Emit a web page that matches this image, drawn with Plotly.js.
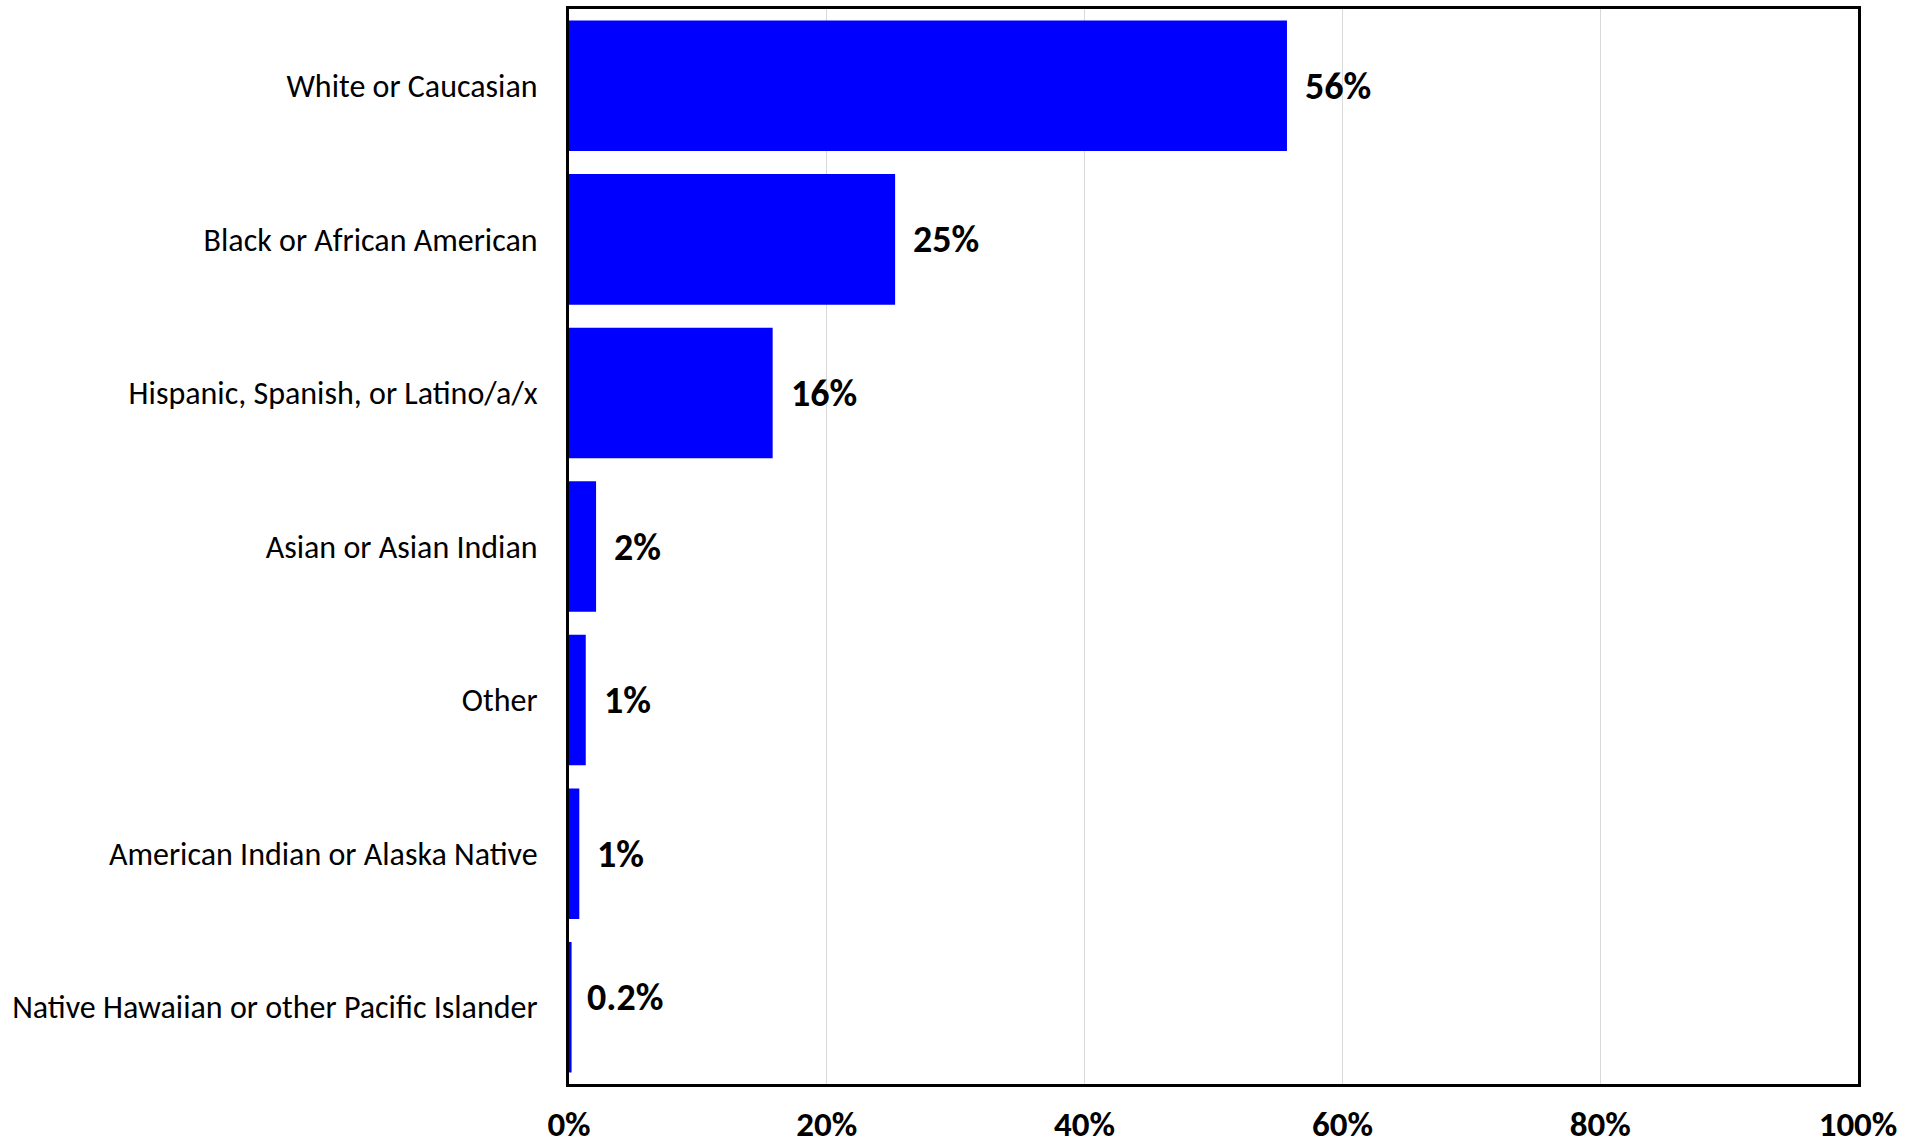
<!DOCTYPE html>
<html>
<head>
<meta charset="utf-8">
<script src="https://cdn.plot.ly/plotly-3.0.1.min.js"></script>
<style>html,body{margin:0;padding:0;background:#fff;}#chart{width:1920px;height:1144px;}</style>
</head>
<body>
<div id="chart"></div>
<script>
const categories = [
  "White or Caucasian",
  "Black or African American",
  "Hispanic, Spanish, or Latino/a/x",
  "Asian or Asian Indian",
  "Other",
  "American Indian or Alaska Native",
  "Native Hawaiian or other Pacific Islander"
];
const values = [55.7, 25.3, 15.8, 2.1, 1.3, 0.8, 0.2];
const valueLabels = ["56%", "25%", "16%", "2%", "1%", "1%", "0.2%"];
const xTickValues = [0, 20, 40, 60, 80, 100];
const xTickLabels = ["0%", "20%", "40%", "60%", "80%", "100%"];

const FONT = "Carlito, Lato, 'Open Sans', sans-serif";

const trace = {
  type: "bar",
  orientation: "h",
  x: values,
  y: categories,
  marker: {color: "#0000FF", line: {width: 0}},
  hoverinfo: "skip"
};

const annotations = categories.map((c, i) => ({
  x: values[i],
  y: c,
  xref: "x",
  yref: "y",
  text: "<b>" + valueLabels[i] + "</b>",
  showarrow: false,
  xanchor: "left",
  yanchor: "middle",
  xshift: valueLabels[i].length > 3 ? 13 : 16,
  yshift: i === categories.length - 1 ? 10 : 0,
  font: {family: FONT, size: 38, color: "#000"}
}));

const layout = {
  width: 1920,
  height: 1144,
  paper_bgcolor: "#fff",
  plot_bgcolor: "#fff",
  margin: {l: 569, r: 62, t: 9, b: 60},
  bargap: 0.15,
  showlegend: false,
  font: {family: FONT, color: "#000"},
  xaxis: {
    range: [0, 100],
    tickvals: xTickValues,
    ticktext: xTickLabels,
    tickfont: {family: FONT, size: 35, color: "#000", weight: "bold"},
    showgrid: true,
    gridcolor: "#d9d9d9",
    gridwidth: 1,
    zeroline: false,
    showline: true,
    linecolor: "#000",
    linewidth: 3,
    mirror: true,
    ticks: "",
    ticklabelstandoff: 7,
    fixedrange: true
  },
  yaxis: {
    autorange: "reversed",
    tickfont: {family: FONT, size: 32, color: "#000"},
    showgrid: false,
    zeroline: false,
    showline: true,
    linecolor: "#000",
    linewidth: 3,
    mirror: true,
    ticks: "",
    ticklabelstandoff: 22,
    fixedrange: true
  },
  annotations: annotations
};

Plotly.newPlot("chart", [trace], layout, {displayModeBar: false, staticPlot: true});
</script>
</body>
</html>
